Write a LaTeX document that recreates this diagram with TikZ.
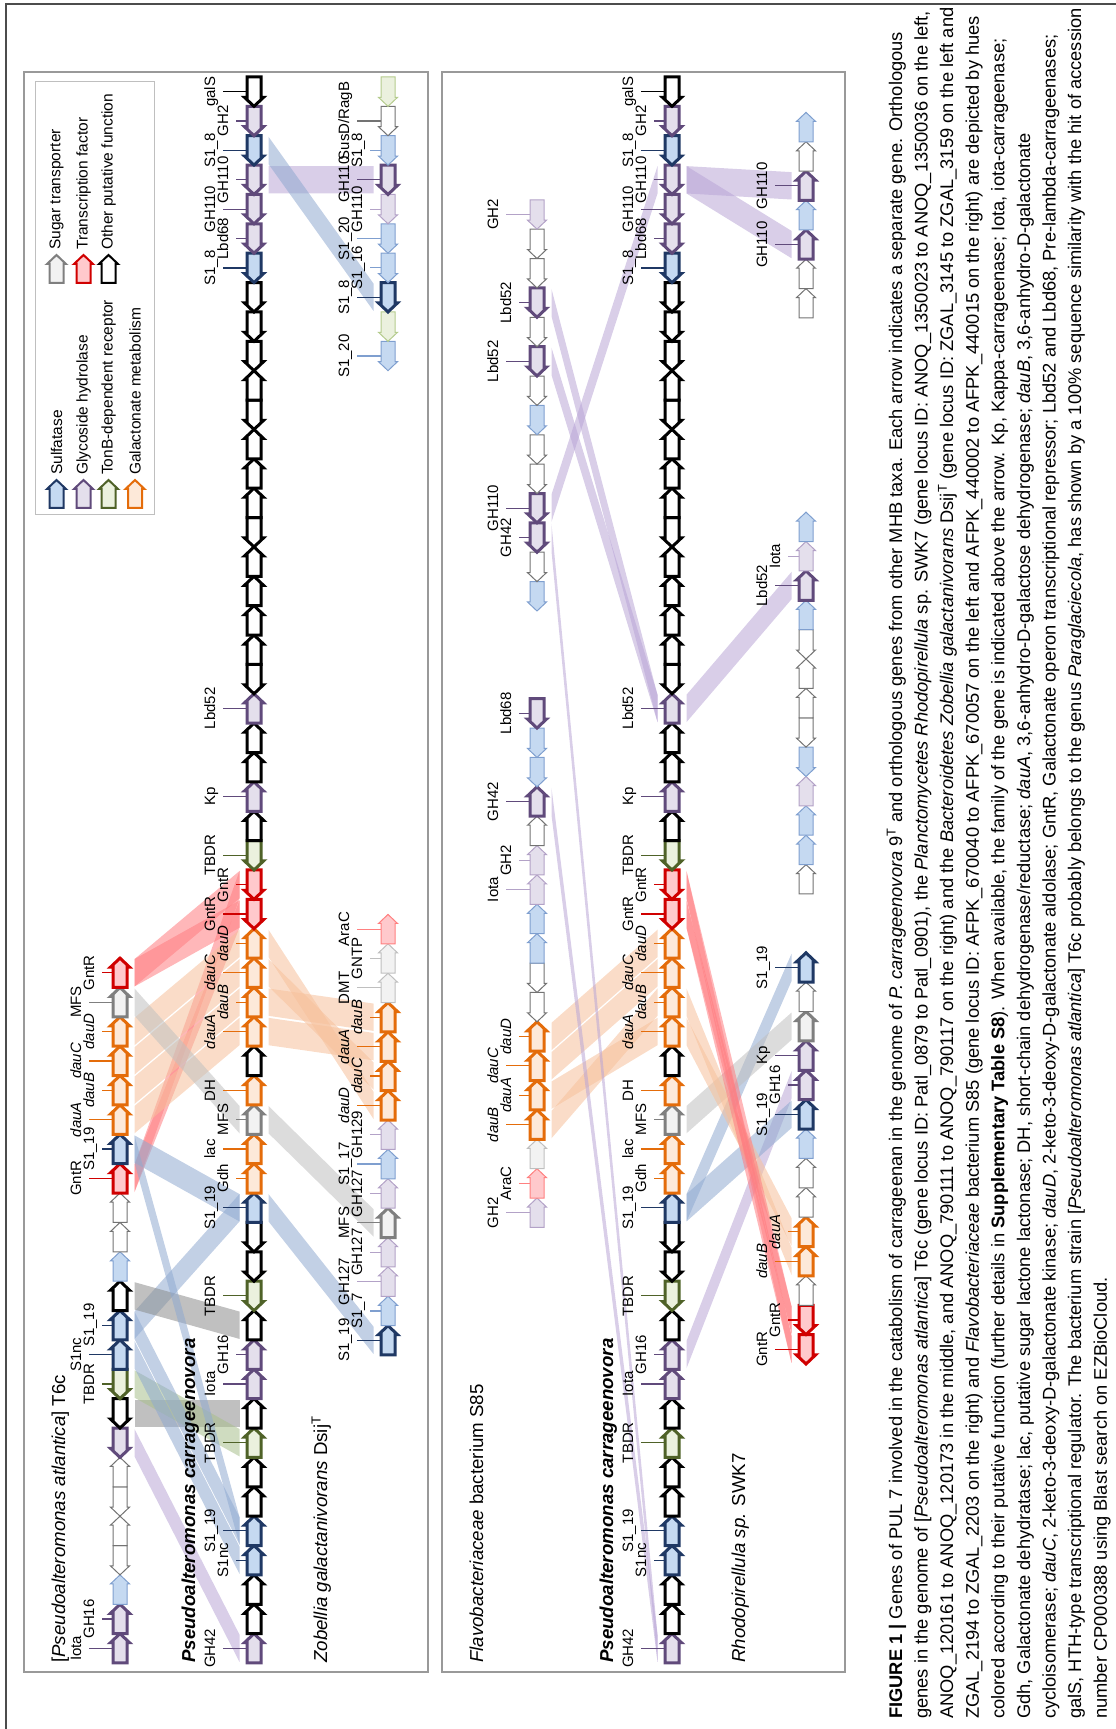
\documentclass[tikz,border=0pt]{standalone}
\usepackage{fontspec}
\setmainfont{Liberation Sans}
\usetikzlibrary{calc,backgrounds}
% gene colours: D = border, F = fill, T = thin border
\definecolor{sulD}{HTML}{1F3864}\definecolor{sulF}{HTML}{C5D9F1}\definecolor{sulT}{HTML}{7F9FCF}
\definecolor{ghD}{HTML}{604A7B}\definecolor{ghF}{HTML}{E4DFEC}\definecolor{ghT}{HTML}{B3A2C7}
\definecolor{tbD}{HTML}{4F6228}\definecolor{tbF}{HTML}{EBF1DE}\definecolor{tbT}{HTML}{B5CC8E}
\definecolor{gaD}{HTML}{E46C0A}\definecolor{gaF}{HTML}{FDE9D9}
\definecolor{trD}{HTML}{7F7F7F}\definecolor{trF}{HTML}{F2F2F2}\definecolor{trT}{HTML}{BFBFBF}
\definecolor{tfD}{HTML}{D00000}\definecolor{tfF}{HTML}{FFC9CC}\definecolor{tfT}{HTML}{FF8080}
% band colours
\definecolor{bdBlu}{HTML}{8FA9D0}\definecolor{bdPur}{HTML}{B9A5D6}\definecolor{bdGrn}{HTML}{A8C08C}
\definecolor{bdOra}{HTML}{F6C09B}\definecolor{bdRed}{HTML}{FF7C80}\definecolor{bdGry}{HTML}{8C8C8C}
\definecolor{bdLgr}{HTML}{C0C0C0}
\tikzset{
  gsul/.style={draw=sulD,fill=sulF,line width=3pt},
  ggh/.style={draw=ghD,fill=ghF,line width=3pt},
  gtbdr/.style={draw=tbD,fill=tbF,line width=3pt},
  ggal/.style={draw=gaD,fill=gaF,line width=3pt},
  gtra/.style={draw=trD,fill=trF,line width=3pt},
  gtf/.style={draw=tfD,fill=tfF,line width=3pt},
  goth/.style={draw=black,fill=white,line width=3pt},
  tsul/.style={draw=sulT,fill=sulF,line width=1pt},
  tgh/.style={draw=ghT,fill=ghF,line width=1pt},
  ttbdr/.style={draw=tbT,fill=tbF,line width=1pt},
  ttra/.style={draw=trT,fill=trF,line width=1pt},
  ttf/.style={draw=tfT,fill=tfF,line width=1pt},
  toth/.style={draw=black!55,fill=white,line width=1pt},
  band/.style={fill=#1,fill opacity=0.55,draw=none},
  glbl/.style={font=\fontsize{15}{15}\selectfont,inner sep=0pt,anchor=base},
  ttl/.style={font=\fontsize{18.7}{20}\selectfont,inner sep=0pt,anchor=base west},
  lgd/.style={font=\fontsize{15.5}{16}\selectfont,inner sep=0pt,anchor=west},
  capt/.style={font=\fontsize{18.3}{20}\selectfont,inner sep=0pt,anchor=base west},
  panel/.style={draw=black!40,line width=1.5pt},
}
\newcommand{\gp}{29.37}
% one gene arrow: style, left x, right x, centre y, direction
\newcommand{\gshape}[5]{%
  \if R#5
    \draw[#1] (#2,#4+7) -- (#3-9,#4+7) -- (#3-9,#4+9.5) -- (#3,#4) -- (#3-9,#4-9.5) -- (#3-9,#4-7) -- (#2,#4-7) -- cycle;
  \else
    \draw[#1] (#3,#4+7) -- (#2+9,#4+7) -- (#2+9,#4+9.5) -- (#2,#4) -- (#2+9,#4-9.5) -- (#2+9,#4-7) -- (#3,#4-7) -- cycle;
  \fi}
% a row of genes: name, start x, centre y, list
\newcommand{\generow}[4]{%
  \foreach \gsty/\gdir/\glab/\glev [count=\gi] in #4 {
    \pgfmathsetmacro\xa{#2+(\gi-1)*\gp}
    \pgfmathsetmacro\xb{\xa+\gp}
    \pgfmathsetmacro\xm{\xa+0.5*\gp}
    \gshape{\gsty}{\xa}{\xb}{#3}{\gdir}
    \coordinate (#1-\gi-n1) at (\xa+1,#3+14.5);
    \coordinate (#1-\gi-n2) at (\xb-1,#3+14.5);
    \coordinate (#1-\gi-s1) at (\xa+1,#3-14.5);
    \coordinate (#1-\gi-s2) at (\xb-1,#3-14.5);
    \ifnum\glev>0
      \pgfmathsetmacro\tk{\glev==2?31:18}
      \pgfmathsetmacro\tx{\glev==2?39:26}
      \draw[\gsty,fill=none,line width=1.2pt] (\xm,#3+7) -- (\xm,#3+\tk);
      \node[glbl] (#1-\gi-lbl) at (\xm,#3+\tx) {\glab};
    \fi
  }}
\newcommand{\homband}[3]{\fill[band=#3] (#1-s1) -- (#1-s2) -- (#2-n2) -- (#2-n1) -- cycle;}
% gene lists
\newcommand{\refgenes}{ggh/R/GH42/2, goth/R//0, goth/R//0, gsul/R/S1nc/1, gsul/R/S1\_19/2, goth/R//0, goth/R//0, gtbdr/R/TBDR/2, goth/R//0, ggh/R/Iota/2, ggh/R/GH16/1, goth/R//0, gtbdr/L/TBDR/2, goth/L//0, goth/L//0, gsul/R/S1\_19/2, ggal/R/Gdh/1, ggal/R/lac/2, gtra/R/MFS/1, ggal/R/DH/2, goth/R//0, ggal/R/\textit{dauA}/2, ggal/R/\textit{dauB}/1, ggal/R/\textit{dauC}/2, ggal/R/\textit{dauD}/1, gtf/L/GntR/2, gtf/L/GntR/1, gtbdr/L/TBDR/2, goth/R//0, ggh/R/Kp/2, goth/R//0, goth/R//0, ggh/R/Lbd52/2, goth/L//0, goth/R//0, goth/R//0, goth/R//0, goth/R//0, goth/L//0, goth/R//0, goth/R//0, goth/R//0, goth/L//0, goth/R//0, goth/L//0, goth/L//0, goth/L//0, gsul/L/S1\_8/2, ggh/L/Lbd68/1, ggh/L/GH110/2, ggh/L/GH110/1, gsul/L/S1\_8/2, ggh/L/GH2/1, goth/L/galS/2}
\newcommand{\atlgenes}{ggh/R/Iota/2, ggh/R/GH16/1, tsul/R//0, toth/L//0, toth/R//0, toth/L//0, toth/R//0, ggh/L//0, goth/L//0, gtbdr/L/TBDR/1, gsul/R/S1nc/2, gsul/R/S1\_19/1, goth/R//0, tsul/R//0, toth/R//0, toth/R//0, gtf/R/GntR/2, gsul/R/S1\_19/1, ggal/R/\textit{dauA}/2, ggal/R/\textit{dauB}/1, ggal/R/\textit{dauC}/2, ggal/R/\textit{dauD}/1, gtra/R/MFS/2, gtf/R/GntR/1}
\newcommand{\zobLgenes}{gsul/R/S1\_19/2, tsul/R/S1\_7/1, tgh/R/GH127/2, tgh/R/GH127/1, gtra/R/MFS/2, tgh/R/GH127/1, tsul/R/S1\_17/2, tgh/R/GH129/1, ggal/R/\textit{dauD}/2, ggal/R/\textit{dauC}/1, ggal/R/\textit{dauA}/2, ggal/R/\textit{dauB}/1, ttra/R/DMT/2, ttra/R/GNTP/1, ttf/R/AraC/2}
\newcommand{\zobRgenes}{tsul/L/S1\_20/2, ttbdr/L//0, gsul/L/S1\_8/2, tsul/L/S1\_16/1, tsul/L/S1\_20/2, tgh/L/GH110/1, ggh/L/GH110/2, tsul/L/S1\_8/1, toth/L/{SusD/RagB}/2, ttbdr/L//0}
\newcommand{\flaLgenes}{tgh/R/GH2/2, ttf/R/AraC/1, ttra/R//0, ggal/R/\textit{dauB}/2, ggal/R/\textit{dauA}/1, ggal/R/\textit{dauC}/2, ggal/R/\textit{dauD}/1, toth/L//0, toth/L//0, tsul/R//0, tsul/R//0, tgh/R/Iota/2, tgh/R/GH2/1, toth/R//0, ggh/R/GH42/2, tsul/L//0, tsul/L//0, ggh/L/Lbd68/1}
\newcommand{\flaRgenes}{tsul/L//0, toth/L//0, ggh/L/GH42/1, ggh/L/GH110/2, toth/L//0, toth/L//0, tsul/L//0, toth/L//0, ggh/L/Lbd52/2, toth/L//0, ggh/L/Lbd52/1, toth/L//0, toth/L//0, tgh/L/GH2/2}
\newcommand{\rhoLgenes}{gtf/L/GntR/2, gtf/L/GntR/1, toth/R//0, ggal/R/\textit{dauB}/2, ggal/R/\textit{dauA}/1, toth/R//0, toth/R//0, tsul/R//0, gsul/R/S1\_19/2, ggh/R/GH16/1, ggh/R/Kp/2, gtra/R//0, toth/R//0, gsul/R/S1\_19/2}
\newcommand{\rhoMgenes}{toth/R//0, tsul/R//0, tsul/R//0, tgh/R//0, tsul/L//0, toth/L//0, toth/R//0, toth/R//0, toth/L//0, tsul/R//0, ggh/R/Lbd52/2, tgh/R/Iota/1, tsul/R//0}
\newcommand{\rhoRgenes}{toth/R//0, toth/R//0, ggh/R/GH110/2, tsul/R//0, ggh/R/GH110/2, toth/R//0, tsul/R//0}

\begin{document}
\begin{tikzpicture}[x=1pt,y=1pt,line join=miter]
\useasboundingbox (0,0) rectangle (1116,1729);
\begin{scope}[rotate=90,transform shape]
 % frame and panels
 \draw[black!70,line width=1.3pt] (0,-6) -- (1725,-6) -- (1725,-1116);
 \draw[panel] (57,-24) rectangle (1657,-428);
 \draw[panel] (57,-442) rectangle (1657,-845);
 % legend
 \draw[black!25,line width=1pt] (1214,-35) rectangle (1647,-154);
 \gshape{gsul,line width=2pt}{1221}{1249}{-56.5}{R}
 \gshape{ggh,line width=2pt}{1221}{1249}{-83.5}{R}
 \gshape{gtbdr,line width=2pt}{1221}{1249}{-108.5}{R}
 \gshape{ggal,line width=2pt}{1221}{1249}{-135}{R}
 \gshape{gtra,line width=2pt}{1446}{1474}{-56.5}{R}
 \gshape{gtf,line width=2pt}{1446}{1474}{-83.5}{R}
 \gshape{goth,line width=2pt}{1446}{1474}{-108.5}{R}
 \node[lgd] (lg-sul) at (1254,-56.5) {Sulfatase};
 \node[lgd] (lg-gh) at (1254,-83.5) {Glycoside hydrolase};
 \node[lgd] (lg-tbdr) at (1254,-108.5) {TonB-dependent receptor};
 \node[lgd] (lg-gal) at (1254,-135) {Galactonate metabolism};
 \node[lgd] (lg-tra) at (1479,-56.5) {Sugar transporter};
 \node[lgd] (lg-tf) at (1479,-83.5) {Transcription factor};
 \node[lgd] (lg-oth) at (1479,-108.5) {Other putative function};
 % titles
 \node[ttl] (t-atl) at (66,-65) {[\textit{Pseudoalteromonas atlantica}] T6c};
 \node[ttl] (t-car1) at (66,-195) {\textbf{\textit{Pseudoalteromonas carrageenovora}}};
 \node[ttl] (t-zob) at (66,-327) {\textit{Zobellia galactanivorans} Dsij\textsuperscript{T}};
 \node[ttl] (t-fla) at (66,-483) {\textit{Flavobacteriaceae} bacterium S85};
 \node[ttl] (t-car2) at (66,-613) {\textbf{\textit{Pseudoalteromonas carrageenovora}}};
 \node[ttl] (t-rho) at (66,-745) {\textit{Rhodopirellula sp.} SWK7};
 % gene rows
 \generow{a}{66}{-120}{\atlgenes}
 \generow{r1}{66}{-254}{\refgenes}
 \generow{z}{374}{-388}{\zobLgenes}
 \generow{zr}{1358.3}{-388}{\zobRgenes}
 \generow{f}{501.6}{-537}{\flaLgenes}
 \generow{fr}{1118}{-537}{\flaRgenes}
 \generow{r2}{66}{-672}{\refgenes}
 \generow{h}{365}{-806}{\rhoLgenes}
 \generow{m}{835}{-806}{\rhoMgenes}
 \generow{hr}{1411}{-806}{\rhoRgenes}
 % homology bands
 \begin{pgfonlayer}{background}
  \homband{a-8}{r1-1}{bdPur}
  \homband{a-9}{r1-9}{bdGry}
  \homband{a-10}{r1-8}{bdGrn}
  \homband{a-11}{r1-4}{bdBlu}
  \homband{a-12}{r1-5}{bdBlu}
  \homband{a-12}{r1-16}{bdBlu}
  \homband{a-13}{r1-12}{bdGry}
  \homband{a-17}{r1-26}{bdRed}
  \homband{a-17}{r1-27}{bdRed}
  \homband{a-18}{r1-5}{bdBlu}
  \homband{a-18}{r1-16}{bdBlu}
  \homband{a-19}{r1-22}{bdOra}
  \homband{a-20}{r1-23}{bdOra}
  \homband{a-21}{r1-24}{bdOra}
  \homband{a-22}{r1-25}{bdOra}
  \homband{a-23}{r1-19}{bdLgr}
  \homband{a-24}{r1-26}{bdRed}
  \homband{a-24}{r1-27}{bdRed}
  \homband{r1-16}{z-1}{bdBlu}
  \homband{r1-19}{z-5}{bdLgr}
  \homband{r1-22}{z-11}{bdOra}
  \homband{r1-23}{z-12}{bdOra}
  \homband{r1-24}{z-10}{bdOra}
  \homband{r1-25}{z-9}{bdOra}
  \homband{r1-51}{zr-7}{bdPur}
  \homband{r1-52}{zr-3}{bdBlu}
  \homband{f-4}{r2-23}{bdOra}
  \homband{f-5}{r2-22}{bdOra}
  \homband{f-6}{r2-24}{bdOra}
  \homband{f-7}{r2-25}{bdOra}
  \homband{f-15}{r2-1}{bdPur}
  \homband{fr-3}{r2-1}{bdPur}
  \homband{fr-4}{r2-51}{bdPur}
  \homband{fr-9}{r2-33}{bdPur}
  \homband{fr-11}{r2-33}{bdPur}
  \homband{r2-11}{h-10}{bdPur}
  \homband{r2-16}{h-9}{bdBlu}
  \homband{r2-16}{h-14}{bdBlu}
  \homband{r2-19}{h-12}{bdLgr}
  \homband{r2-22}{h-5}{bdOra}
  \homband{r2-23}{h-4}{bdOra}
  \homband{r2-26}{h-1}{bdRed}
  \homband{r2-26}{h-2}{bdRed}
  \homband{r2-27}{h-1}{bdRed}
  \homband{r2-27}{h-2}{bdRed}
  \homband{r2-33}{m-11}{bdPur}
  \homband{r2-51}{hr-3}{bdPur}
  \homband{r2-51}{hr-5}{bdPur}
 \end{pgfonlayer}
 % caption
 \node[capt] (cap1) at (10,-902) {\textbf{FIGURE 1 |} Genes of PUL 7 involved in the catabolism of carrageenan in the genome of \textit{P. carrageenovora} 9\textsuperscript{T} and orthologous genes from other MHB taxa. Each arrow indicates a separate gene. Orthologous};
 \node[capt] (cap2) at (10,-927.6) {genes in the genome of [\textit{Pseudoalteromonas atlantica}] T6c (gene locus ID: Patl\_0879 to Patl\_0901), the \textit{Planctomycetes Rhodopirellula} sp. SWK7 (gene locus ID: ANOQ\_1350023 to ANOQ\_1350036 on the left,};
 \node[capt] (cap3) at (10,-953.2) {ANOQ\_120161 to ANOQ\_120173 in the middle, and ANOQ\_790111 to ANOQ\_790117 on the right) and the \textit{Bacteroidetes Zobellia galactanivorans} Dsij\textsuperscript{T} (gene locus ID: ZGAL\_3145 to ZGAL\_3159 on the left and};
 \node[capt] (cap4) at (10,-978.8) {ZGAL\_2194 to ZGAL\_2203 on the right) and \textit{Flavobacteriaceae} bacterium S85 (gene locus ID: AFPK\_670040 to AFPK\_670057 on the left and AFPK\_440002 to AFPK\_440015 on the right) are depicted by hues};
 \node[capt] (cap5) at (10,-1004.4) {colored according to their putative function (further details in \textbf{Supplementary Table S8}). When available, the family of the gene is indicated above the arrow. Kp, Kappa-carrageenase; Iota, iota-carrageenase;};
 \node[capt] (cap6) at (10,-1030) {Gdh, Galactonate dehydratase; lac, putative sugar lactone lactonase; DH, short-chain dehydrogenase/reductase; \textit{dauA}, 3,6-anhydro-D-galactose dehydrogenase; \textit{dauB}, 3,6-anhydro-D-galactonate};
 \node[capt] (cap7) at (10,-1055.6) {cycloisomerase; \textit{dauC}, 2-keto-3-deoxy-D-galactonate kinase; \textit{dauD}, 2-keto-3-deoxy-D-galactonate aldolase; GntR, Galactonate operon transcriptional repressor; Lbd52 and Lbd68, Pre-lambda-carrageenases;};
 \node[capt] (cap8) at (10,-1081.2) {galS, HTH-type transcriptional regulator. The bacterium strain [\textit{Pseudoalteromonas atlantica}] T6c probably belongs to the genus \textit{Paraglaciecola}, has shown by a 100\% sequence similarity with the hit of accession};
 \node[capt] (cap9) at (10,-1106.8) {number CP000388 using Blast search on EZBioCloud.};
\end{scope}
\end{tikzpicture}
\end{document}
